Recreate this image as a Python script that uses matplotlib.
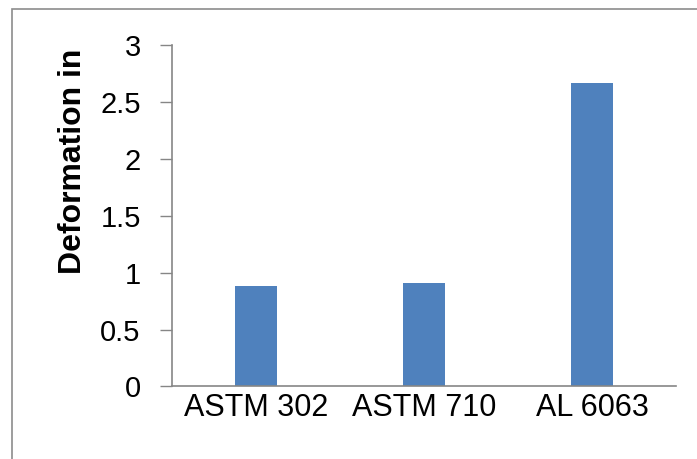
import matplotlib
matplotlib.use("Agg")
import matplotlib.pyplot as plt
from matplotlib.patches import Rectangle

materials = ["ASTM 302", "ASTM 710", "AL 6063"]
deformation = [0.887, 0.908, 2.667]
y_ticks = [0, 0.5, 1, 1.5, 2, 2.5, 3]
y_tick_labels = ["0", "0.5", "1", "1.5", "2", "2.5", "3"]

plt.rcParams['font.family'] = ['Liberation Sans', 'DejaVu Sans']

fig = plt.figure(figsize=(6.97, 4.59), dpi=100)
ax = fig.add_axes([0.2468, 0.158, 0.7232, 0.744])

# outer chart border (runs off the right and bottom edges)
fig.patches.append(Rectangle((12 / 697, -0.5), 2, 1.5 - 9 / 459,
                             transform=fig.transFigure, fill=False,
                             edgecolor="#8c8c8c", linewidth=1.2))

x = range(len(materials))
ax.bar(x, deformation, width=0.245, color="#4F81BD")

ax.set_xlim(-0.5, 2.5)
ax.set_ylim(0, 3)
ax.set_xticks(list(x))
ax.set_xticklabels(materials, fontsize=22)
ax.set_yticks(y_ticks)
ax.set_yticklabels(y_tick_labels, fontsize=21)

ax.tick_params(axis="x", length=0, pad=5)
ax.tick_params(axis="y", length=8.6, width=1, color="#868686", direction="out", pad=14)

for side in ["top", "right"]:
    ax.spines[side].set_visible(False)
for side in ["left", "bottom"]:
    ax.spines[side].set_color("#868686")
    ax.spines[side].set_linewidth(1.2)

ax.set_ylabel("Deformation in", fontsize=23, fontweight="bold")
ax.yaxis.set_label_coords(-0.167, 0.66)

plt.savefig("out.png", dpi=100)
